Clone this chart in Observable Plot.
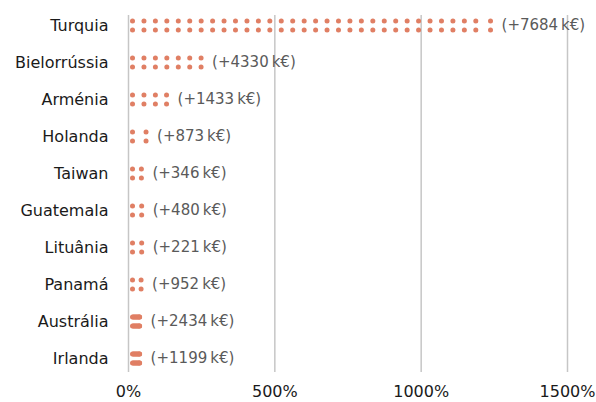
<!DOCTYPE html>
<html>
<head>
<meta charset="utf-8">
<script src="https://cdn.jsdelivr.net/npm/d3@7"></script>
<script src="https://cdn.jsdelivr.net/npm/@observablehq/plot@0.6"></script>
<style>
  html, body { margin: 0; padding: 0; background: #fff; }
</style>
</head>
<body>
<div id="chart"></div>
<script>
// Data
const countries = ["Turquia", "Bielorrússia", "Arménia", "Holanda", "Taiwan", "Guatemala", "Lituânia", "Panamá", "Austrália", "Irlanda"];
const growthPct = [1237, 248, 130, 60, 44, 45, 45, 43, 38, 38];
const valueKEur = [7684, 4330, 1433, 873, 346, 480, 221, 952, 2434, 1199];
const xTicks = [0, 500, 1000, 1500];

const color = "#E07F64";

// Dotted-bar rendering (in value units of the x scale)
const DOT_START = 13.7;
const DOT_STEP = 39.1;
const DASH_LIMIT = 27;

const rows = countries.map((c, i) => ({country: c, pct: growthPct[i], k: valueKEur[i]}));
const dots = [];
for (const r of rows) {
  const span = r.pct - DOT_START;
  if (span < DASH_LIMIT) {
    for (let p = DOT_START; p < r.pct; p += 3) dots.push({country: r.country, x: p});
  } else {
    for (let p = DOT_START; p < r.pct - DOT_STEP * 0.5; p += DOT_STEP) dots.push({country: r.country, x: p});
  }
  dots.push({country: r.country, x: r.pct});
}

const chart = Plot.plot({
  width: 596,
  height: 402,
  marginLeft: 128,
  marginRight: 29,
  marginTop: 4,
  marginBottom: 23,
  style: {fontFamily: "DejaVu Sans", fontSize: "16px", background: "#fff"},
  x: {domain: [0, 1500], ticks: xTicks},
  y: {type: "point", domain: countries, padding: 0.5},
  marks: [
    Plot.ruleX(xTicks, {stroke: "#c6c6c6", strokeWidth: 1.5, insetTop: 11, insetBottom: 7}),
    Plot.dot(dots, {x: "x", y: "country", r: 2.5, fill: color, dy: -4.4}),
    Plot.dot(dots, {x: "x", y: "country", r: 2.5, fill: color, dy: 4.4}),
    Plot.text(rows, {x: "pct", y: "country", text: d => `(+${d.k}\u2009k€)`, textAnchor: "start", dx: 11, fill: "#5a5a5a", fontSize: 15}),
    Plot.axisY({tickSize: 0, tickPadding: 20, fontSize: 16, fill: "#1a1a1a", label: null}),
    Plot.axisX({ticks: xTicks, tickSize: 0, tickPadding: 6, tickFormat: d => d + "%", fontSize: 16, fill: "#1a1a1a", label: null})
  ]
});
document.getElementById("chart").appendChild(chart);
</script>
</body>
</html>
